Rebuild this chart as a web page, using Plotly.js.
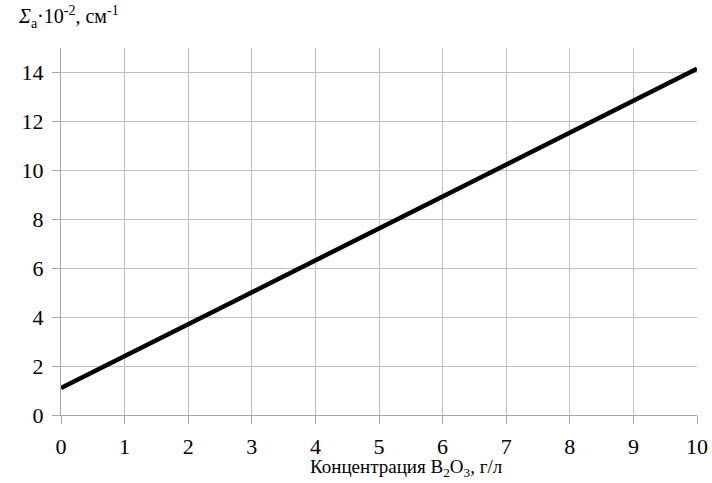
<!DOCTYPE html>
<html><head><meta charset="utf-8">
<script src="https://cdn.plot.ly/plotly-3.0.1.min.js"></script>
<style>
body{margin:0;background:#fff}#c{width:712px;height:483px}
</style>
</head><body><div id="c"></div>
<script>
var concentration = [0, 10];
var sigmaA = [1.1, 14.15];
var xTicks = [0,1,2,3,4,5,6,7,8,9,10];
var yTicks = [0,2,4,6,8,10,12,14];

var trace = {x: concentration, y: sigmaA, mode: 'lines', line: {color: '#000', width: 4.5}, hoverinfo: 'skip'};
var serif = 'Liberation Serif';
var layout = {
  width: 712, height: 483,
  margin: {l: 61, r: 15, t: 48, b: 68},
  paper_bgcolor: '#fff', plot_bgcolor: '#fff',
  showlegend: false,
  font: {family: serif, color: '#000', size: 20},
  xaxis: {range: [0, 10], tickvals: xTicks, ticks: 'outside', ticklen: 8, tickcolor: '#a6a6a6',
          showgrid: true, gridcolor: '#bfbfbf', gridwidth: 1, showline: true, linecolor: '#a6a6a6',
          zeroline: false, tickfont: {size: 22, family: serif, color: '#000'}, ticklabelstandoff: 4, fixedrange: true},
  yaxis: {range: [0, 15], tickvals: yTicks, ticks: 'outside', ticklen: 8, tickcolor: '#a6a6a6',
          showgrid: true, gridcolor: '#bfbfbf', gridwidth: 1, showline: true, linecolor: '#a6a6a6',
          zeroline: false, tickfont: {size: 22, family: serif, color: '#000'}, ticklabelstandoff: 4, fixedrange: true},
  annotations: [
    {xref: 'paper', yref: 'paper', x: (406 - 61) / 636, xanchor: 'center', y: -0.145, yanchor: 'middle',
     text: 'Концентрация B<sub>2</sub>O<sub>3</sub>, г/л', showarrow: false, font: {size: 19, family: serif, color: '#000'}},
    {xref: 'paper', yref: 'paper', x: -0.07, xanchor: 'left', y: 1.085, yanchor: 'middle',
     text: '<i>Σ</i><sub>a</sub>·10<sup>-2</sup>, см<sup>-1</sup>', showarrow: false, font: {size: 20, family: serif, color: '#000'}}
  ]
};
Plotly.newPlot('c', [trace], layout, {staticPlot: true}).then(function(gd){
  var texts = gd.querySelectorAll('svg text');
  for (var i = 0; i < texts.length; i++) {
    var t = texts[i];
    var fs = t.style.fontSize || '20px';
    t.setAttribute('font-family', 'Liberation Serif');
    t.setAttribute('font-size', parseFloat(fs));
  }
});
</script></body></html>
